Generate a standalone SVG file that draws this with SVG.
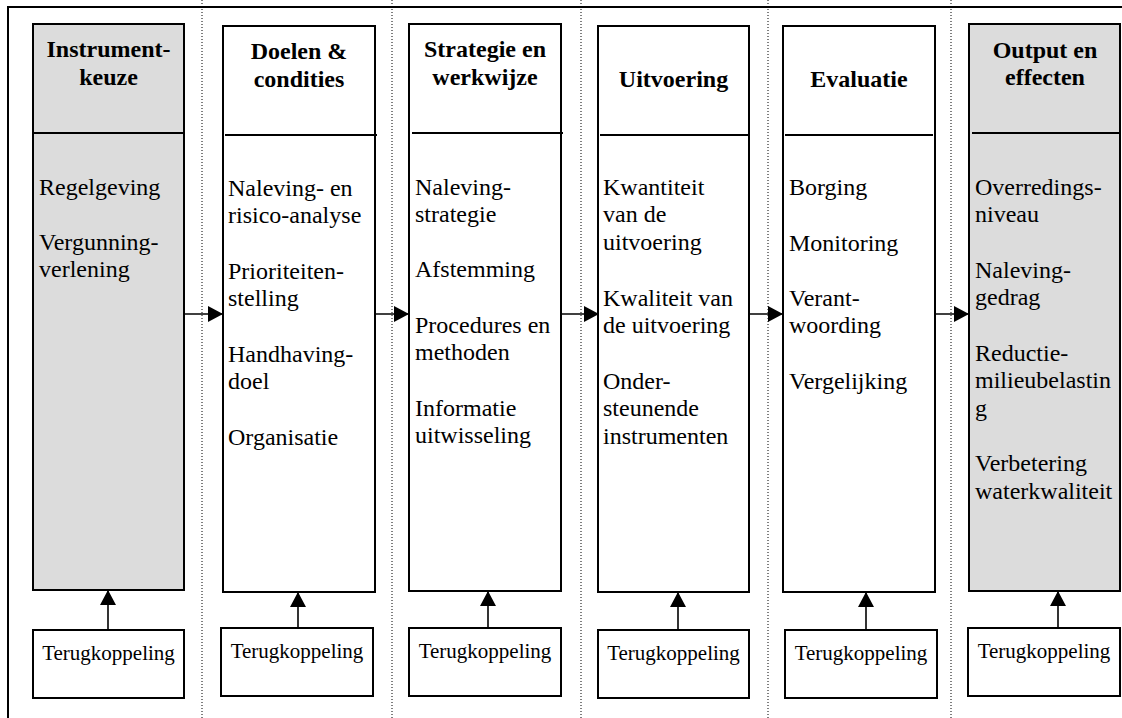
<svg xmlns="http://www.w3.org/2000/svg" width="1122" height="718" viewBox="0 0 1122 718">
<style>
.col{stroke:#000;stroke-width:2;fill:#fff}
.gray{fill:#dcdcdc}
.div{stroke:#000;stroke-width:2}
.title{font-family:"Liberation Serif","Times New Roman",serif;font-size:24px;font-weight:bold;text-anchor:middle;fill:#000}
.body{font-family:"Liberation Serif","Times New Roman",serif;font-size:24px;fill:#000}
.fb{font-family:"Liberation Serif","Times New Roman",serif;font-size:21px;text-anchor:middle;fill:#000}
.sep{stroke:#000;stroke-width:1;stroke-dasharray:1,2}
.frame{stroke:#000;stroke-width:2;fill:none}
.conn{stroke:#000;stroke-width:1.6;fill:none;marker-end:url(#ah)}
</style>
<defs>
<marker id="ah" markerUnits="userSpaceOnUse" markerWidth="15" markerHeight="16" refX="15" refY="8" orient="auto">
<path d="M0,0 L15,8 L0,16 z" fill="#000"/>
</marker>
</defs>
<rect width="1122" height="718" fill="#fff"/>
<g id="frame">
<path class="frame" d="M8,718 V7 H1122"/>
<line class="sep" x1="202" y1="0" x2="202" y2="718"/>
<line class="sep" x1="392" y1="0" x2="392" y2="718"/>
<line class="sep" x1="581" y1="0" x2="581" y2="718"/>
<line class="sep" x1="768" y1="0" x2="768" y2="718"/>
<line class="sep" x1="951" y1="0" x2="951" y2="718"/>
</g>
<g id="col1">
<rect class="col gray" x="33" y="24" width="151" height="566"/>
<line class="div" x1="33" y1="133" x2="184" y2="133"/>
<text class="title" x="108.5" y="57">Instrument-</text>
<text class="title" x="108.5" y="85">keuze</text>
<text class="body" x="39" y="195">Regelgeving</text>
<text class="body" x="39" y="250">Vergunning-</text>
<text class="body" x="39" y="277">verlening</text>
</g>
<g id="col2">
<rect class="col" x="223" y="26" width="152" height="566"/>
<line class="div" x1="225" y1="135" x2="377" y2="135"/>
<text class="title" x="299" y="59">Doelen &amp;</text>
<text class="title" x="299" y="87">condities</text>
<text class="body" x="228" y="196">Naleving- en</text>
<text class="body" x="228" y="223">risico-analyse</text>
<text class="body" x="228" y="279">Prioriteiten-</text>
<text class="body" x="228" y="306">stelling</text>
<text class="body" x="228" y="362">Handhaving-</text>
<text class="body" x="228" y="389">doel</text>
<text class="body" x="228" y="445">Organisatie</text>
</g>
<g id="col3">
<rect class="col" x="409" y="24" width="152" height="567"/>
<line class="div" x1="412" y1="133" x2="563" y2="133"/>
<text class="title" x="485" y="57">Strategie en</text>
<text class="title" x="485" y="85">werkwijze</text>
<text class="body" x="415" y="195">Naleving-</text>
<text class="body" x="415" y="222">strategie</text>
<text class="body" x="415" y="277">Afstemming</text>
<text class="body" x="415" y="333">Procedures en</text>
<text class="body" x="415" y="360">methoden</text>
<text class="body" x="415" y="416">Informatie</text>
<text class="body" x="415" y="443">uitwisseling</text>
</g>
<g id="col4">
<rect class="col" x="598" y="26" width="151" height="566"/>
<line class="div" x1="600" y1="135" x2="748" y2="135"/>
<text class="title" x="673.5" y="87">Uitvoering</text>
<text class="body" x="603" y="195">Kwantiteit</text>
<text class="body" x="603" y="222">van de</text>
<text class="body" x="603" y="250">uitvoering</text>
<text class="body" x="603" y="306">Kwaliteit van</text>
<text class="body" x="603" y="333">de uitvoering</text>
<text class="body" x="603" y="389">Onder-</text>
<text class="body" x="603" y="416">steunende</text>
<text class="body" x="603" y="444">instrumenten</text>
</g>
<g id="col5">
<rect class="col" x="783" y="26" width="152" height="566"/>
<line class="div" x1="785" y1="135" x2="933" y2="135"/>
<text class="title" x="859" y="87">Evaluatie</text>
<text class="body" x="789" y="195">Borging</text>
<text class="body" x="789" y="251">Monitoring</text>
<text class="body" x="789" y="306">Verant-</text>
<text class="body" x="789" y="333">woording</text>
<text class="body" x="789" y="389">Vergelijking</text>
</g>
<g id="col6">
<rect class="col gray" x="969" y="24" width="151" height="567"/>
<line class="div" x1="972" y1="133" x2="1119" y2="133"/>
<text class="title" x="1045" y="58">Output en</text>
<text class="title" x="1045" y="85">effecten</text>
<text class="body" x="975" y="195">Overredings-</text>
<text class="body" x="975" y="222">niveau</text>
<text class="body" x="975" y="278">Naleving-</text>
<text class="body" x="975" y="305">gedrag</text>
<text class="body" x="975" y="361">Reductie-</text>
<text class="body" x="975" y="388">milieubelastin</text>
<text class="body" x="975" y="416">g</text>
<text class="body" x="975" y="471">Verbetering</text>
<text class="body" x="975" y="499">waterkwaliteit</text>
</g>
<g id="fb1">
<rect class="col" x="33" y="630" width="151" height="68"/>
<text class="fb" x="108.5" y="660">Terugkoppeling</text>
</g>
<g id="fb2">
<rect class="col" x="221" y="628" width="152" height="68"/>
<text class="fb" x="297" y="658">Terugkoppeling</text>
</g>
<g id="fb3">
<rect class="col" x="409" y="628" width="152" height="68"/>
<text class="fb" x="485" y="658">Terugkoppeling</text>
</g>
<g id="fb4">
<rect class="col" x="598" y="630" width="151" height="68"/>
<text class="fb" x="673.5" y="660">Terugkoppeling</text>
</g>
<g id="fb5">
<rect class="col" x="785" y="630" width="152" height="68"/>
<text class="fb" x="861" y="660">Terugkoppeling</text>
</g>
<g id="fb6">
<rect class="col" x="968" y="628" width="152" height="68"/>
<text class="fb" x="1044" y="658">Terugkoppeling</text>
</g>
<g id="connectors">
<line class="conn" x1="185" y1="314" x2="223" y2="314"/>
<line class="conn" x1="376" y1="314" x2="409" y2="314"/>
<line class="conn" x1="562" y1="314" x2="599" y2="314"/>
<line class="conn" x1="750" y1="314" x2="783" y2="314"/>
<line class="conn" x1="936" y1="314" x2="969" y2="314"/>
<line class="conn" x1="108" y1="630" x2="108" y2="590"/>
<line class="conn" x1="298" y1="628" x2="298" y2="592"/>
<line class="conn" x1="488" y1="628" x2="488" y2="591"/>
<line class="conn" x1="678" y1="630" x2="678" y2="592"/>
<line class="conn" x1="866" y1="630" x2="866" y2="592"/>
<line class="conn" x1="1058" y1="628" x2="1058" y2="591"/>
</g>
</svg>
